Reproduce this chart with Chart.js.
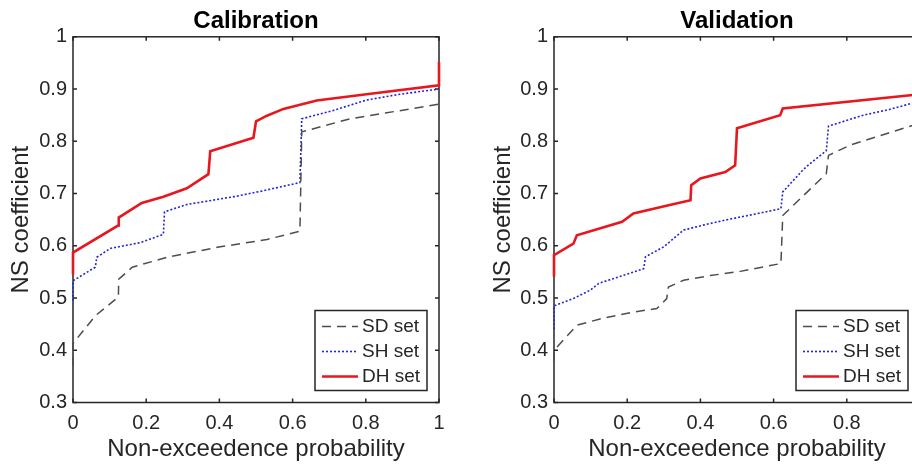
<!DOCTYPE html>
<html>
<head>
<meta charset="utf-8">
<title>NS coefficient - calibration and validation</title>
<script src="https://cdn.jsdelivr.net/npm/chart.js@4.4.0/dist/chart.umd.min.js"></script>
<style>
    html, body { margin: 0; padding: 0; background: #fff; overflow: hidden; width: 912px; height: 466px; }
    #calChart { position: absolute; left: 0; top: 0; }
    #valChart { position: absolute; left: 456px; top: 0; }
</style>
</head>
<body>
<canvas id="calChart" width="456" height="466"></canvas>
<canvas id="valChart" width="480" height="466"></canvas>
<script>
const seriesNames = ['SD set', 'SH set', 'DH set'];
const xTicks = [0, 0.2, 0.4, 0.6, 0.8, 1];
const yTicks = [0.3, 0.4, 0.5, 0.6, 0.7, 0.8, 0.9, 1];

// calibration: [non-exceedence probability, NS coefficient]
const calSD = [[0, 0.37], [0, 0.413], [0.061, 0.466], [0.124, 0.502], [0.125, 0.536], [0.162, 0.559],
    [0.257, 0.578], [0.394, 0.597], [0.53, 0.612], [0.62, 0.628], [0.625, 0.818], [0.757, 0.843], [1, 0.871]];
const calSH = [[0, 0.495], [0, 0.533], [0.061, 0.559], [0.065, 0.578], [0.102, 0.595], [0.184, 0.606],
    [0.247, 0.622], [0.25, 0.665], [0.311, 0.679], [0.44, 0.694], [0.511, 0.704], [0.62, 0.721],
    [0.625, 0.843], [0.711, 0.859], [0.802, 0.879], [0.893, 0.89], [1, 0.9]];
const calDH = [[0, 0.545], [0, 0.587], [0.124, 0.639], [0.125, 0.654], [0.188, 0.682], [0.247, 0.694],
    [0.311, 0.71], [0.37, 0.737], [0.375, 0.781], [0.493, 0.807], [0.5, 0.838], [0.53, 0.849],
    [0.575, 0.862], [0.666, 0.878], [0.802, 0.89], [1, 0.907], [1, 0.952]];

// validation
const valSD = [[0, 0.38], [0, 0.4], [0.063, 0.448], [0.126, 0.46], [0.217, 0.473], [0.281, 0.48],
    [0.308, 0.499], [0.3125, 0.521], [0.354, 0.534], [0.427, 0.543], [0.509, 0.551], [0.62, 0.566],
    [0.625, 0.658], [0.744, 0.738], [0.75, 0.773], [0.81, 0.793], [0.91, 0.815], [1, 0.835]];
const valSH = [[0, 0.44], [0, 0.485], [0.053, 0.499], [0.099, 0.515], [0.122, 0.528], [0.245, 0.556],
    [0.25, 0.579], [0.3, 0.598], [0.354, 0.63], [0.41, 0.64], [0.48, 0.651], [0.552, 0.661],
    [0.62, 0.671], [0.625, 0.703], [0.68, 0.745], [0.694, 0.754], [0.744, 0.782], [0.75, 0.829],
    [0.845, 0.85], [0.917, 0.861], [1, 0.877]];
const valDH = [[0, 0.541], [0, 0.582], [0.053, 0.604], [0.0625, 0.62], [0.186, 0.646], [0.217, 0.662],
    [0.316, 0.678], [0.373, 0.687], [0.375, 0.716], [0.4, 0.729], [0.468, 0.741], [0.495, 0.754],
    [0.5, 0.825], [0.618, 0.85], [0.625, 0.863], [1, 0.89]];

const lineStyles = [
    { color: '#4d4d4d', width: 1.5, dash: [9, 6] },
    { color: '#2424d6', width: 1.6, dash: [2, 2] },
    { color: '#e8161e', width: 2.6, dash: [] }
];

Chart.defaults.font.family = '"Liberation Sans", Arial, sans-serif';
Chart.defaults.color = '#262626';

// matlab style box with inward ticks
const axesBox = {
    id: 'axesBox',
    beforeDatasetsDraw(chart) {
        const { ctx, chartArea: a, scales } = chart;
        ctx.save();
        ctx.strokeStyle = '#262626';
        ctx.lineWidth = 1.5;
        ctx.strokeRect(a.left, a.top, a.width, a.height);
        ctx.beginPath();
        scales.x.ticks.forEach(t => {
            const px = scales.x.getPixelForValue(t.value);
            ctx.moveTo(px, a.bottom); ctx.lineTo(px, a.bottom - 4);
            ctx.moveTo(px, a.top); ctx.lineTo(px, a.top + 4);
        });
        scales.y.ticks.forEach(t => {
            const py = scales.y.getPixelForValue(t.value);
            ctx.moveTo(a.left, py); ctx.lineTo(a.left + 4, py);
            ctx.moveTo(a.right, py); ctx.lineTo(a.right - 4, py);
        });
        ctx.stroke();
        ctx.restore();
    }
};

// legend in the lower right corner of the plot, with a frame
const boxLegend = {
    id: 'boxLegend',
    afterDatasetsDraw(chart) {
        const { ctx, chartArea: a } = chart;
        const w = 112, h = 80;
        const left = a.right - 12 - w;
        const top = a.bottom - 12 - h;
        ctx.save();
        ctx.fillStyle = '#fff';
        ctx.fillRect(left, top, w, h);
        ctx.strokeStyle = '#262626';
        ctx.lineWidth = 1.5;
        ctx.strokeRect(left, top, w, h);
        ctx.font = '19px "Liberation Sans", Arial, sans-serif';
        ctx.textBaseline = 'middle';
        chart.data.datasets.forEach((ds, i) => {
            const y = top + 16 + i * 25;
            ctx.strokeStyle = ds.borderColor;
            ctx.lineWidth = ds.borderWidth;
            ctx.setLineDash(ds.borderDash);
            ctx.beginPath();
            ctx.moveTo(left + 7, y);
            ctx.lineTo(left + 43, y);
            ctx.stroke();
            ctx.setLineDash([]);
            ctx.fillStyle = '#262626';
            ctx.fillText(ds.label, left + 47, y);
        });
        ctx.restore();
    }
};

function fmt(v) {
    return String(+v.toFixed(1));
}

function makeChart(canvasId, title, sets, yWidth, yTitlePad, rightPad) {
    return new Chart(document.getElementById(canvasId), {
        type: 'line',
        data: {
            datasets: sets.map((pts, i) => ({
                label: seriesNames[i],
                data: pts.map(p => ({ x: p[0], y: p[1] })),
                borderColor: lineStyles[i].color,
                borderWidth: lineStyles[i].width,
                borderDash: lineStyles[i].dash,
                pointRadius: 0,
                tension: 0,
                fill: false,
                clip: 4
            }))
        },
        options: {
            responsive: false,
            animation: false,
            layout: { padding: { left: 0, right: rightPad, top: 0, bottom: 0 } },
            plugins: {
                legend: { display: false },
                tooltip: { enabled: false },
                title: {
                    display: true,
                    text: title,
                    fullSize: false,
                    color: '#000',
                    font: { size: 24, weight: 'bold' },
                    padding: { top: 7, bottom: 1 }
                }
            },
            scales: {
                x: {
                    type: 'linear',
                    min: 0,
                    max: 1,
                    afterBuildTicks: s => { s.ticks = xTicks.map(v => ({ value: v })); },
                    afterFit: s => { s.height = 63.5; },
                    grid: { display: false, drawTicks: false },
                    border: { display: false },
                    ticks: { font: { size: 20 }, padding: 9, maxRotation: 0, callback: fmt },
                    title: { display: true, text: 'Non-exceedence probability', font: { size: 24 }, padding: { top: 0, bottom: 2 } }
                },
                y: {
                    min: 0.3,
                    max: 1,
                    afterBuildTicks: s => { s.ticks = yTicks.map(v => ({ value: v })); },
                    afterFit: s => { s.width = yWidth; },
                    grid: { display: false, drawTicks: false },
                    border: { display: false },
                    ticks: { font: { size: 20 }, padding: 6, callback: fmt },
                    title: { display: true, text: 'NS coefficient', font: { size: 24 }, padding: { top: yTitlePad, bottom: 0 } }
                }
            }
        },
        plugins: [axesBox, boxLegend]
    });
}

makeChart('calChart', 'Calibration', [calSD, calSH, calDH], 73, 7, 17);
makeChart('valChart', 'Validation', [valSD, valSH, valDH], 98, 33, 16);
</script>
</body>
</html>
